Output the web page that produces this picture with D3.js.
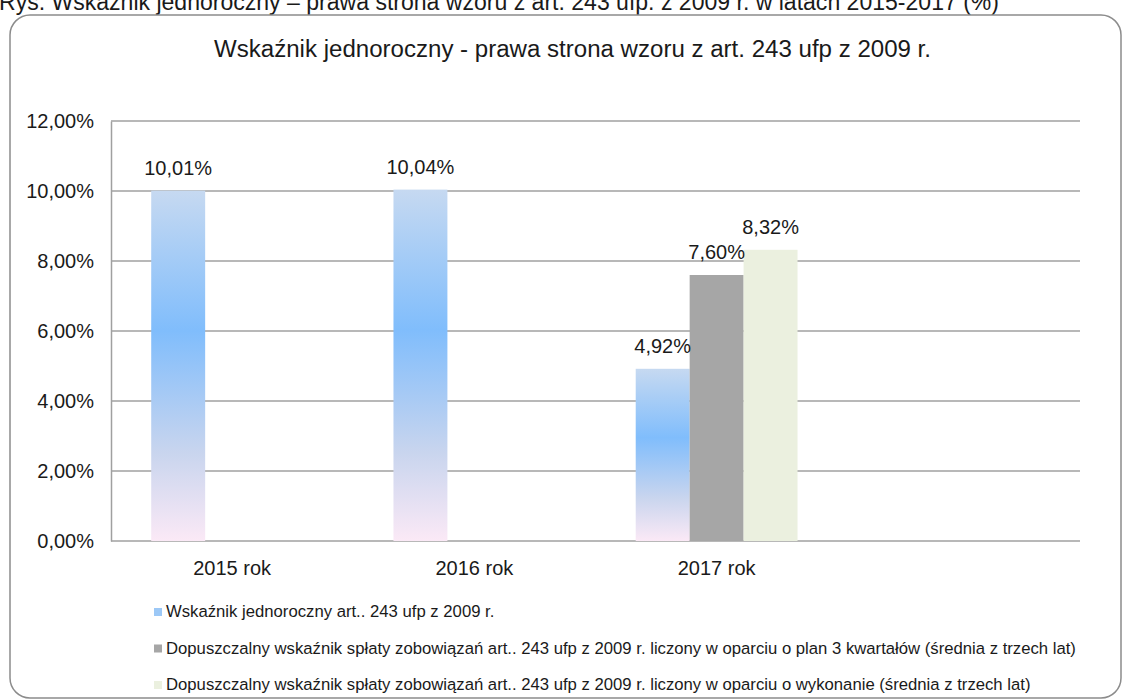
<!DOCTYPE html>
<meta charset="utf-8">
<style>
body { margin: 0; background: #fff; }
svg text { font-family: "Liberation Sans", Arial, sans-serif; fill: #1a1a1a; }
</style>
<body>
<div id="chart"></div>
<script src="https://cdn.jsdelivr.net/npm/d3@7"></script>
<script>
// data
var categories = ['2015 rok', '2016 rok', '2017 rok', '']
var seriesNames = [
    'Wskaźnik jednoroczny art.. 243 ufp z 2009 r.',
    'Dopuszczalny wskaźnik spłaty zobowiązań art.. 243 ufp z 2009 r. liczony w oparciu o plan 3 kwartałów (średnia z trzech lat)',
    'Dopuszczalny wskaźnik spłaty zobowiązań art.. 243 ufp z 2009 r. liczony w oparciu o wykonanie (średnia z trzech lat)'
]
var wskaznik = [10.01, 10.04, 4.92, null]
var dopPlan = [null, null, 7.60, null]
var dopWykonanie = [null, null, 8.32, null]
var yTicks = [0, 2, 4, 6, 8, 10, 12]
var caption = 'Rys. Wskaźnik jednoroczny – prawa strona wzoru z art. 243 ufp. z 2009 r. w latach 2015-2017 (%)'
var title = 'Wskaźnik jednoroczny  - prawa strona wzoru z art. 243 ufp z 2009 r.'

var values = [wskaznik, dopPlan, dopWykonanie]
var fills = ['url(#blueGrad)', '#a6a6a6', '#ebf0df']

var width = 1123
var height = 700
var plot = { left: 111, right: 1080, top: 121, bottom: 541 }

var pl = d3.formatLocale({ decimal: ',', thousands: ' ', grouping: [3], currency: ['', ''] })
var pct = function (v) { return pl.format('.2f')(v) + '%' }

var svg = d3.select('#chart')
    .append('svg')
    .attr('width', width)
    .attr('height', height)

var defs = svg.append('defs')
var grad = defs.append('linearGradient')
    .attr('id', 'blueGrad')
    .attr('x1', 0).attr('y1', 0).attr('x2', 0).attr('y2', 1)
grad.append('stop').attr('offset', '0%').attr('stop-color', '#c6d9f1')
grad.append('stop').attr('offset', '40%').attr('stop-color', '#80bdfc')
grad.append('stop').attr('offset', '75%').attr('stop-color', '#c9d5ee')
grad.append('stop').attr('offset', '100%').attr('stop-color', '#fbe9f6')

// caption, cut off at the top like in the original
svg.append('text')
    .attr('x', -1)
    .attr('y', 10)
    .attr('textLength', 1000)
    .attr('lengthAdjust', 'spacingAndGlyphs')
    .style('font-size', '23px')
    .text(caption)

// frame
svg.append('rect')
    .attr('x', 10)
    .attr('y', 15)
    .attr('width', 1111)
    .attr('height', 683)
    .attr('rx', 20)
    .style('fill', 'none')
    .style('stroke', '#8c8c8c')
    .style('stroke-width', 1.5)

svg.append('text')
    .attr('x', 214)
    .attr('y', 57)
    .attr('textLength', 717)
    .attr('lengthAdjust', 'spacingAndGlyphs')
    .style('font-size', '23px')
    .text(title)

var x0 = d3.scaleBand()
    .domain(categories)
    .range([plot.left, plot.right])

var gap = x0.bandwidth() * 0.166
var x1 = d3.scaleBand()
    .domain([0, 1, 2])
    .range([gap, x0.bandwidth() - gap])

var y = d3.scaleLinear()
    .domain([0, 12])
    .range([plot.bottom, plot.top])

// gridlines
svg.append('g')
    .selectAll('line')
    .data(yTicks)
    .enter()
    .append('line')
    .attr('x1', plot.left)
    .attr('x2', plot.right)
    .attr('y1', function (d) { return y(d) })
    .attr('y2', function (d) { return y(d) })
    .style('stroke', '#a0a0a0')
    .style('stroke-width', 1.5)

var yAxis = d3.axisLeft(y)
    .tickValues(yTicks)
    .tickSize(0)
    .tickPadding(17)
    .tickFormat(pct)

var gy = svg.append('g')
    .attr('transform', 'translate(' + plot.left + ',0)')
    .call(yAxis)
gy.select('.domain').style('stroke', '#a0a0a0').style('stroke-width', 1.5)
gy.selectAll('text').style('font-size', '20px').style('fill', '#1a1a1a')

var xAxis = d3.axisBottom(x0)
    .tickSize(0)
    .tickPadding(20)

var gx = svg.append('g')
    .attr('transform', 'translate(0,' + plot.bottom + ')')
    .call(xAxis)
gx.select('.domain').remove()
gx.selectAll('text').style('font-size', '20px').style('fill', '#1a1a1a')

// bars
var bars = []
values.forEach(function (vals, s) {
    vals.forEach(function (v, i) {
        if (v != null) bars.push({ cat: categories[i], s: s, v: v })
    })
})

var g = svg.append('g')
g.selectAll('rect')
    .data(bars)
    .enter()
    .append('rect')
    .attr('x', function (d) { return x0(d.cat) + x1(d.s) })
    .attr('width', x1.bandwidth())
    .attr('y', function (d) { return y(d.v) })
    .attr('height', function (d) { return y(0) - y(d.v) })
    .style('fill', function (d) { return fills[d.s] })

g.selectAll('text')
    .data(bars)
    .enter()
    .append('text')
    .attr('x', function (d) { return x0(d.cat) + x1(d.s) + x1.bandwidth() / 2 })
    .attr('y', function (d) { return y(d.v) - 16 })
    .style('text-anchor', 'middle')
    .style('font-size', '20px')
    .text(function (d) { return pct(d.v) })

// legend
var legend = svg.append('g')
    .selectAll('g')
    .data(seriesNames)
    .enter()
    .append('g')
    .attr('transform', function (d, i) { return 'translate(154,' + (617 + i * 36.5) + ')' })

legend.append('rect')
    .attr('x', 0)
    .attr('y', -9)
    .attr('width', 8)
    .attr('height', 8)
    .style('fill', function (d, i) { return i === 0 ? '#9cc8f6' : fills[i] })

legend.append('text')
    .attr('x', 12)
    .attr('y', 0)
    .style('font-size', '16.7px')
    .text(function (d) { return d })
</script>
</body>
